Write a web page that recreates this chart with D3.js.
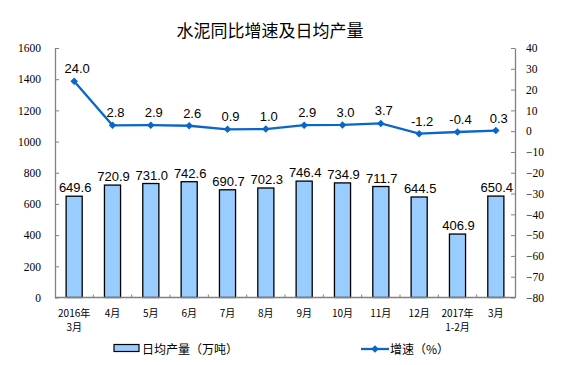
<!DOCTYPE html>
<html>
<head>
<meta charset="utf-8">
<script src="https://cdn.jsdelivr.net/npm/d3@7/dist/d3.min.js"></script>
<style>
  html, body { margin: 0; padding: 0; background: #fff; }
  svg { display: block; }
</style>
</head>
<body>
<svg id="chart" width="574" height="365"></svg>
<script>
// ---- data ----
const categories = ["2016年\n3月", "4月", "5月", "6月", "7月", "8月", "9月", "10月", "11月", "12月", "2017年\n1-2月", "3月"];
const output = [649.6, 720.9, 731.0, 742.6, 690.7, 702.3, 746.4, 734.9, 711.7, 644.5, 406.9, 650.4];
const growth = [24.0, 2.8, 2.9, 2.6, 0.9, 1.0, 2.9, 3.0, 3.7, -1.2, -0.4, 0.3];
const leftTicks = [0, 200, 400, 600, 800, 1000, 1200, 1400, 1600];
const rightTicks = [-80, -70, -60, -50, -40, -30, -20, -10, 0, 10, 20, 30, 40];
const title = "水泥同比增速及日均产量";
const barLegend = "日均产量（万吨）";
const lineLegend = "增速（%）";

// ---- layout ----
const svg = d3.select("#chart");
const L = 55, R = 515, T = 48, B = 297.5;
const axisColor = "#808080";
const barFill = "#99CCFF";
const lineColor = "#0A66C8";
const cjk = "'Noto Sans CJK SC', sans-serif";
const serif = "'Liberation Serif', 'Times New Roman', serif";
const sans = "'Liberation Sans', Arial, sans-serif";

const x = d3.scaleBand().domain(d3.range(categories.length)).range([L, R])
  .paddingInner(0.58).paddingOuter(0.29);
const yL = d3.scaleLinear().domain([0, 1600]).range([B, T]);
const yR = d3.scaleLinear().domain([-80, 40]).range([B, T]);

// title
svg.append("text").attr("x", 270).attr("y", 37).attr("text-anchor", "middle")
  .attr("font-family", cjk).attr("font-size", 17).attr("fill", "#000").text(title);

// bars
svg.append("g").selectAll("rect").data(output).join("rect")
  .attr("x", (d, i) => x(i)).attr("width", x.bandwidth())
  .attr("y", d => yL(d)).attr("height", d => yL(0) - yL(d))
  .attr("fill", barFill).attr("stroke", "#000").attr("stroke-width", 1.3);

// bar labels
svg.append("g").selectAll("text").data(output).join("text")
  .attr("x", (d, i) => x(i) + x.bandwidth() / 2 + 1)
  .attr("y", d => yL(d) - 4)
  .attr("text-anchor", "middle").attr("font-family", sans).attr("font-size", 13)
  .attr("fill", "#000").text(d => d.toFixed(1));

// left axis
const gL = svg.append("g").attr("transform", `translate(${L},0)`)
  .call(d3.axisLeft(yL).tickValues(leftTicks).tickSizeInner(-4).tickSizeOuter(0).tickPadding(14).tickFormat(d3.format("d")));
gL.select(".domain").attr("stroke", axisColor).attr("stroke-width", 1.3);
gL.selectAll(".tick line").attr("stroke", axisColor).attr("stroke-width", 1);
gL.selectAll(".tick text").attr("font-family", serif).attr("font-size", 11.5).attr("fill", "#000");

// right axis
const gR = svg.append("g").attr("transform", `translate(${R},0)`)
  .call(d3.axisRight(yR).tickValues(rightTicks).tickSizeInner(-4).tickSizeOuter(0).tickPadding(11).tickFormat(d3.format("d")));
gR.select(".domain").attr("stroke", axisColor).attr("stroke-width", 1.3);
gR.selectAll(".tick line").attr("stroke", axisColor).attr("stroke-width", 1);
gR.selectAll(".tick text").attr("font-family", serif).attr("font-size", 11.5).attr("fill", "#000");

// bottom axis line + boundary ticks
svg.append("line").attr("x1", L).attr("x2", R).attr("y1", B).attr("y2", B)
  .attr("stroke", axisColor).attr("stroke-width", 1.3);
svg.append("g").selectAll("line").data(d3.range(1, categories.length)).join("line")
  .attr("x1", i => L + i * x.step()).attr("x2", i => L + i * x.step())
  .attr("y1", B).attr("y2", B - 3).attr("stroke", axisColor).attr("stroke-width", 1);

// category labels
const cat = svg.append("g").selectAll("text").data(categories).join("text")
  .attr("text-anchor", "middle").attr("font-family", cjk).attr("font-size", 10)
  .attr("fill", "#000");
cat.each(function (d, i) {
  const lines = d.split("\n");
  const cx = x(i) + x.bandwidth() / 2;
  lines.forEach((ln, k) => {
    d3.select(this).append("tspan").attr("x", cx).attr("y", 316.5 + k * 14.8).text(ln);
  });
});

// line
const lineGen = d3.line().x((d, i) => x(i) + x.bandwidth() / 2).y(d => yR(d));
svg.append("path").datum(growth).attr("d", lineGen)
  .attr("fill", "none").attr("stroke", lineColor).attr("stroke-width", 2.3);
const diamond = d3.symbol().type(d3.symbolDiamond2).size(36);
svg.append("g").selectAll("path").data(growth).join("path")
  .attr("transform", (d, i) => `translate(${x(i) + x.bandwidth() / 2},${yR(d)})`)
  .attr("d", diamond).attr("fill", lineColor);

// line labels
svg.append("g").selectAll("text").data(growth).join("text")
  .attr("x", (d, i) => x(i) + x.bandwidth() / 2 + 3)
  .attr("y", d => yR(d) - 8)
  .attr("text-anchor", "middle").attr("font-family", sans).attr("font-size", 13)
  .attr("fill", "#000").text(d => d.toFixed(1));

// legend
svg.append("rect").attr("x", 114).attr("y", 344.5).attr("width", 25).attr("height", 7)
  .attr("fill", barFill).attr("stroke", "#000").attr("stroke-width", 1.2);
svg.append("text").attr("x", 142).attr("y", 353.5).attr("font-family", cjk)
  .attr("font-size", 12).attr("fill", "#000").text(barLegend);
svg.append("line").attr("x1", 361).attr("x2", 389).attr("y1", 349).attr("y2", 349)
  .attr("stroke", lineColor).attr("stroke-width", 2.3);
svg.append("path").attr("transform", "translate(375,349)").attr("d", diamond).attr("fill", lineColor);
svg.append("text").attr("x", 390).attr("y", 353.5).attr("font-family", cjk)
  .attr("font-size", 12).attr("fill", "#000").text(lineLegend);
</script>
</body>
</html>
